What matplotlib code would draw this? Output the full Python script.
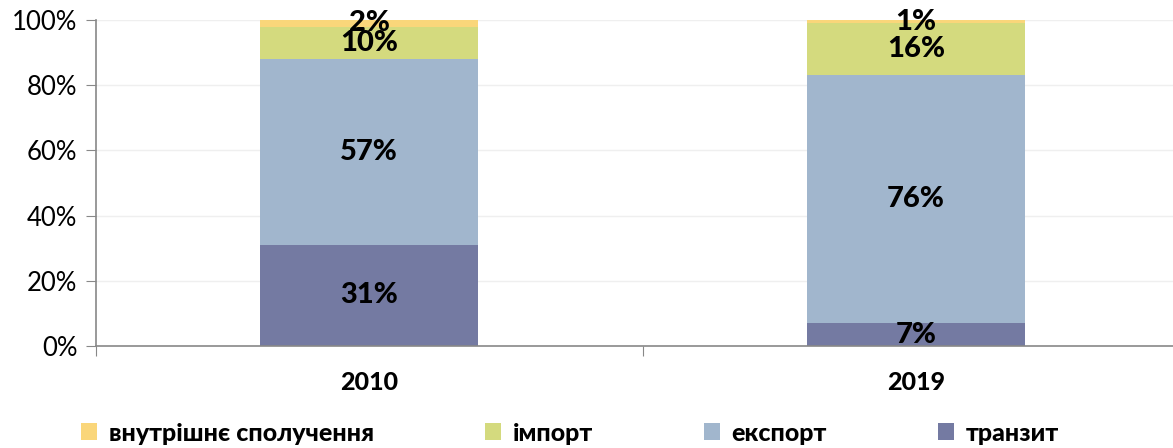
import matplotlib.pyplot as plt

years = ['2010', '2019']
series = ['транзит', 'експорт', 'імпорт', 'внутрішнє сполучення']
tranzyt = [31, 7]
eksport = [57, 76]
import_ = [10, 16]
vnutr = [2, 1]
colors = ['#747AA2', '#A1B6CD', '#D4DA7E', '#FAD67A']

plt.rcParams['font.family'] = ['Lato', 'Open Sans', 'DejaVu Sans']

fig = plt.figure(figsize=(11.73, 4.48), dpi=100)
ax = fig.add_axes([95.5 / 1173, 1 - 346 / 448, 1094 / 1173, 326 / 448])

x = list(range(len(years)))
values = [tranzyt, eksport, import_, vnutr]
bottom = [0, 0]
bars = []
for name, vals, c in zip(series, values, colors):
    b = ax.bar(x, vals, 0.4, bottom=bottom, color=c, label=name, zorder=2)
    bars.append(b)
    for xi, v, b0 in zip(x, vals, bottom):
        ax.text(xi, b0 + v / 2, f'{v}%', ha='center', va='center',
                fontsize=21, fontweight=900, color='black', zorder=3)
    bottom = [b0 + v for b0, v in zip(bottom, vals)]

ax.set_xlim(-0.5, 1.5)
ax.set_ylim(0, 100)
ax.set_yticks(range(0, 101, 20))
ax.set_yticklabels([f'{t}%' for t in range(0, 101, 20)], fontsize=18.5)
ax.yaxis.grid(True, color='#EFEFEF', linewidth=1, zorder=0)

ax.set_xticks([-0.5, 0.5, 1.5])
ax.set_xticklabels([])
ax.set_xticks(x, minor=True)
ax.set_xticklabels(years, minor=True, fontsize=18, fontweight=900)
ax.tick_params(axis='x', which='minor', length=0, pad=18)
ax.tick_params(axis='x', which='major', length=7, color='#888888')
ax.tick_params(axis='y', length=7, color='#888888', pad=6)

for s in ['top', 'right']:
    ax.spines[s].set_visible(False)
for s in ['left', 'bottom']:
    ax.spines[s].set_color('#888888')
    ax.spines[s].set_linewidth(1.2)

handles = bars[::-1]
labels = series[::-1]
fig.legend(handles, labels, loc='center', bbox_to_anchor=(570 / 1173, 1 - 433 / 448),
           ncol=4, frameon=False, handlelength=0.65, handleheight=0.65,
           handletextpad=0.45, columnspacing=4.45,
           prop={'size': 18, 'weight': 900})

fig.savefig('out.png', dpi=100)
